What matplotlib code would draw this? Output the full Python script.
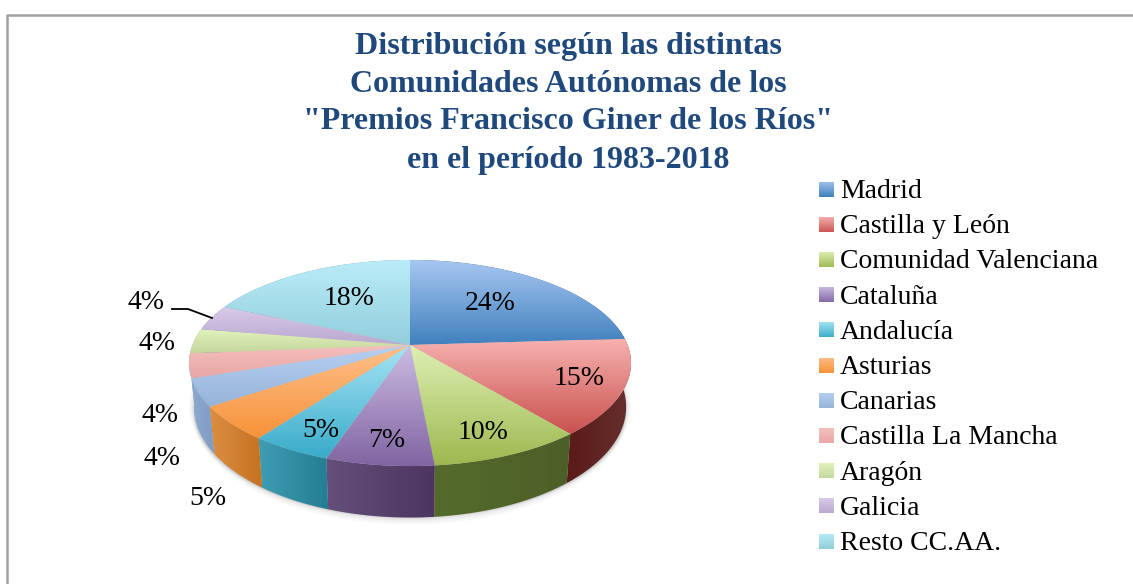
import numpy as np
import matplotlib
matplotlib.use('Agg')
import matplotlib.pyplot as plt
from matplotlib.colors import LinearSegmentedColormap
from matplotlib.patches import Polygon

# --- data ---
categories = ['Madrid', 'Castilla y León', 'Comunidad Valenciana', 'Cataluña', 'Andalucía',
              'Asturias', 'Canarias', 'Castilla La Mancha', 'Aragón', 'Galicia', 'Resto CC.AA.']
values = [24.0, 15.0, 9.5, 6.7, 5.0, 5.4, 4.3, 3.8, 3.9, 4.1, 18.3]

title_lines = ['Distribución según las distintas', 'Comunidades Autónomas de los',
               '"Premios Francisco Giner de los Ríos"', 'en el período 1983-2018']

# top face gradient (light, dark)
top_colors = [('#A9C8F2', '#3F80BD'), ('#F7B3B1', '#C9504D'), ('#DFF0B5', '#9DB84F'),
              ('#CDBDE2', '#8064A2'), ('#A8E4F5', '#38ABC9'), ('#FFC08C', '#F79239'),
              ('#B7D0F2', '#95B3D7'), ('#F7C0BE', '#E6A6A4'), ('#E3F3BE', '#C3D69B'),
              ('#DACCEA', '#B8A7CF'), ('#BBEDF8', '#92CDDC')]
# side wall gradient (left, right)
wall_colors = [('#2F5F8F', '#2F5F8F'), ('#5A1A18', '#66302E'), ('#556B2C', '#4C5F28'),
               ('#64507A', '#4C3560'), ('#3F9DB4', '#247D92'), ('#DC8E42', '#C47220'),
               ('#8FA9CF', '#7F9CC4'), ('#8FA9CF', '#8FA9CF'), ('#8FA9CF', '#8FA9CF'),
               ('#8C7CA0', '#8C7CA0'), ('#70A0B0', '#70A0B0')]

# label placement in pixels (x centre, baseline)
label_pos = [(490, 310), (579, 385), (483, 439), (387, 447), (321, 437), (208, 505),
             (162, 465), (160, 422), (157, 350), (146, 309), (349, 305)]

# --- pie geometry (perspective disc) ---
CX, CY = 410, 345
RX, RY = 217.6, 99.9
PERSP = 0.1747
DEPTH = 42.5
BOTTOM_SHRINK = 0.978  # lower rim looks a bit narrower than the upper one


def project(theta):
    u = np.sin(theta)
    v = np.cos(theta)
    s = 1 / (1 + PERSP * v)
    return CX + RX * u * s, CY - RY * v * s, DEPTH * s


def gradient_fill(ax, xy, c0, c1, horizontal=False, zorder=2):
    xy = np.asarray(xy)
    x0, x1 = xy[:, 0].min(), xy[:, 0].max()
    y0, y1 = xy[:, 1].min(), xy[:, 1].max()
    cmap = LinearSegmentedColormap.from_list('g', [c0, c1])
    g = np.linspace(0, 1, 128)
    g = g.reshape(1, -1) if horizontal else g.reshape(-1, 1)
    patch = Polygon(xy, closed=True, facecolor='none', edgecolor='none', zorder=zorder)
    ax.add_patch(patch)
    # image is 1px bigger than the clip so no pale border shows up
    im = ax.imshow(g, cmap=cmap, extent=(x0 - 1, x1 + 1, y1 + 1, y0 - 1), aspect='auto',
                   zorder=zorder, vmin=0, vmax=1, interpolation='bilinear')
    im.set_clip_path(patch)


fig = plt.figure(figsize=(11.33, 5.84), dpi=100)
ax = fig.add_axes([0, 0, 1, 1])

edges = 2 * np.pi * np.concatenate([[0], np.cumsum(values)]) / sum(values)

# soft shadow under the disc
t = np.linspace(0, 2 * np.pi, 361)
px, py, pd = project(t)
bx = CX + (px - CX) * BOTTOM_SHRINK
for grow, a in [(7, 0.03), (5, 0.04), (3, 0.05), (1.5, 0.06)]:
    ax.add_patch(Polygon(np.c_[bx, py + pd + grow], closed=True, facecolor='#555555',
                         edgecolor='none', alpha=a, zorder=1))
    ax.add_patch(Polygon(np.c_[bx + np.sign(bx - CX) * grow * 0.7, py + pd], closed=True,
                         facecolor='#555555', edgecolor='none', alpha=a, zorder=1))

# side walls
for i in range(len(values)):
    a = np.linspace(edges[i], edges[i + 1], 60)
    x, y, d = project(a)
    xb = CX + (x - CX) * BOTTOM_SHRINK
    wall = np.r_[np.c_[x, y], np.c_[xb, y + d][::-1]]
    gradient_fill(ax, wall, wall_colors[i][0], wall_colors[i][1], horizontal=True, zorder=2)

# top faces
for i in range(len(values)):
    a = np.linspace(edges[i], edges[i + 1], 60)
    x, y, d = project(a)
    top = np.r_[[[CX, CY]], np.c_[x, y]]
    gradient_fill(ax, top, top_colors[i][0], top_colors[i][1], zorder=3)

# percent labels
for v, (lx, ly) in zip(values, label_pos):
    ax.text(lx, ly, f'{v:.0f}%', ha='center', va='baseline', fontsize=20,
            family='Liberation Serif', color='black', zorder=5)

# leader line of Galicia
ax.plot([172, 188, 212], [309, 309, 318], color='black', lw=1.3, zorder=5)

# title
for line, ty in zip(title_lines, [54, 92, 129, 168]):
    ax.text(568, ty, line, ha='center', va='baseline', fontsize=23, fontweight='bold',
            family='Liberation Serif', color='#1F497D', zorder=5)

# legend
for i, name in enumerate(categories):
    ly = 189 + i * 35.2
    sq = [(819, ly - 7.5), (834, ly - 7.5), (834, ly + 7.5), (819, ly + 7.5)]
    gradient_fill(ax, sq, top_colors[i][0], top_colors[i][1], zorder=3)
    ax.text(840, ly + 9, name, ha='left', va='baseline', fontsize=20,
            family='Liberation Serif', color='black', zorder=5)

# outer frame (only top and left are inside the crop)
ax.plot([7, 7, 1133], [584, 15, 15], color='#A0A0A0', lw=1.8, zorder=6)

ax.set_xlim(0, 1133)
ax.set_ylim(584, 0)
ax.axis('off')

fig.savefig('out.png', dpi=100)
